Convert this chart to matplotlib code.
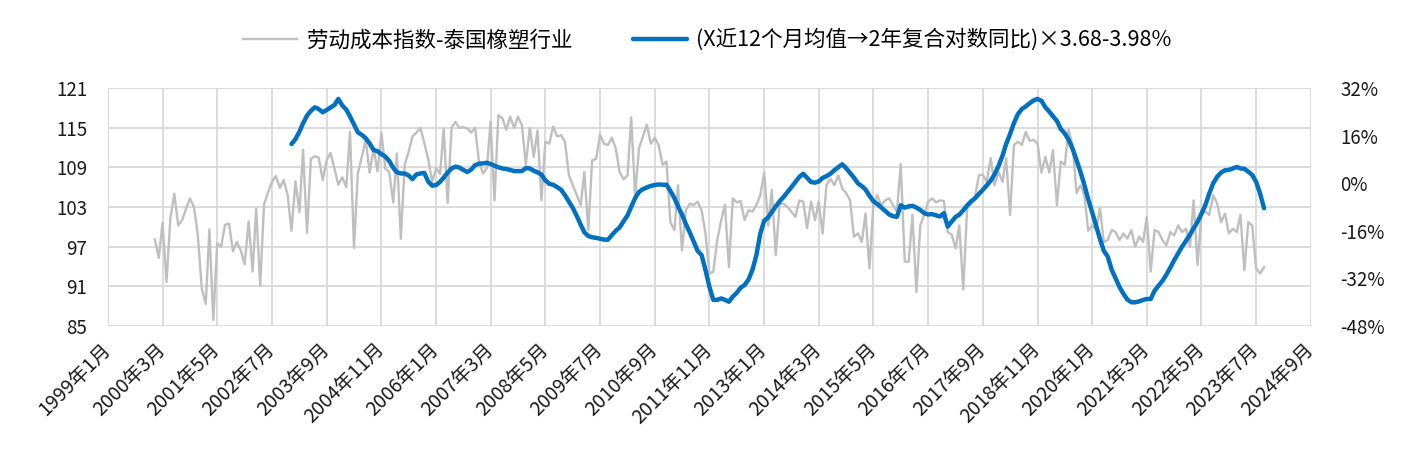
import matplotlib
matplotlib.use("Agg")
import matplotlib.pyplot as plt
import pandas as pd

plt.rcParams['font.family'] = ['Noto Sans CJK SC', 'DejaVu Sans']

# ---- data ----
gray_label = "劳动成本指数-泰国橡塑行业"
blue_label = "(X近12个月均值→2年复合对数同比)×3.68-3.98%"

gray_start = "2000-01-01"
gray_values = [
    98.1, 95.3, 100.6, 91.6, 101.3, 105.0, 100.2, 101.0, 102.8, 104.3, 103.0, 98.7,   # 2000
    90.6, 88.3, 99.6, 85.9, 97.5, 97.0, 100.3, 100.5, 96.3, 97.7, 96.4, 94.3,         # 2001
    100.8, 93.2, 102.7, 91.1, 103.4, 105.2, 106.8, 107.7, 105.9, 107.1, 104.8, 99.4,  # 2002
    106.9, 102.2, 111.7, 99.1, 110.3, 110.7, 110.5, 107.1, 110.1, 111.2, 108.8, 106.4,  # 2003
    107.5, 106.0, 114.4, 96.8, 108.1, 110.6, 113.2, 108.2, 111.9, 108.4, 114.2, 108.8,  # 2004
    108.3, 103.7, 111.1, 98.2, 109.4, 111.4, 113.7, 114.3, 115.0, 112.7, 110.2, 106.8,  # 2005
    108.9, 108.0, 114.9, 103.6, 115.0, 115.9, 115.0, 115.1, 114.9, 114.3, 115.0, 109.9,  # 2006
    108.1, 108.9, 115.9, 104.0, 116.9, 116.5, 114.7, 116.7, 115.0, 116.7, 115.4, 109.4,  # 2007
    115.0, 110.6, 114.6, 104.0, 112.9, 112.6, 115.2, 113.7, 113.9, 112.9, 107.8, 106.3,  # 2008
    104.8, 103.3, 108.3, 99.5, 110.1, 110.3, 114.0, 112.6, 112.4, 113.5, 111.9, 108.3,  # 2009
    107.2, 107.8, 116.6, 104.8, 111.9, 113.7, 115.5, 112.6, 113.5, 112.4, 109.4, 109.9,  # 2010
    100.7, 99.5, 106.3, 96.4, 102.5, 103.5, 103.3, 103.8, 102.5, 99.0, 92.9, 93.2,     # 2011
    98.0, 101.0, 103.3, 93.9, 104.3, 103.7, 103.9, 101.0, 102.5, 102.3, 103.3, 104.8,  # 2012
    108.2, 100.2, 105.6, 95.7, 103.5, 103.5, 103.0, 102.3, 101.5, 104.0, 103.8, 99.8,  # 2013
    103.8, 101.0, 103.8, 99.0, 106.3, 107.3, 106.3, 107.8, 105.8, 105.1, 104.0, 98.5,  # 2014
    99.0, 97.7, 102.0, 93.7, 103.3, 104.8, 103.3, 104.0, 104.3, 103.3, 102.3, 109.5,   # 2015
    94.7, 94.7, 101.8, 90.1, 100.2, 101.8, 103.8, 104.3, 103.7, 104.0, 103.9, 99.2,    # 2016
    98.8, 96.7, 100.2, 90.5, 102.8, 103.5, 104.5, 107.8, 107.9, 106.8, 110.4, 106.3,   # 2017
    108.3, 106.8, 110.4, 101.8, 112.4, 112.9, 112.4, 114.4, 113.0, 113.2, 112.6, 108.2,  # 2018
    110.6, 108.2, 111.6, 103.3, 109.9, 109.4, 114.7, 112.4, 105.1, 106.3, 104.8, 99.4,  # 2019
    100.2, 99.5, 102.8, 97.7, 98.0, 99.5, 99.2, 98.0, 99.0, 98.2, 99.5, 97.0,          # 2020
    98.5, 97.7, 101.5, 93.2, 99.5, 99.2, 98.0, 97.2, 99.2, 98.7, 100.2, 99.2,          # 2021
    99.7, 97.0, 104.0, 94.2, 102.0, 102.3, 101.8, 104.8, 103.5, 100.7, 102.0, 99.0,    # 2022
    99.7, 99.2, 101.8, 93.4, 100.7, 100.2, 93.7, 92.9, 93.9,                           # 2023
]

blue_start = "2002-12-01"
blue_values = [
    13.2,                                                                   # 2002-12
    14.9, 17.4, 20.2, 22.8, 24.4, 25.6, 25.0, 23.9, 24.7, 25.5, 26.4, 28.4,  # 2003
    26.2, 24.8, 22.5, 19.8, 17.2, 16.3, 15.2, 13.4, 11.2, 10.8, 9.8, 9.0,    # 2004
    7.5, 5.2, 3.7, 3.3, 3.3, 2.6, 1.4, 3.0, 3.3, 3.5, 0.5, -0.8,             # 2005
    -0.6, 0.5, 1.9, 3.6, 5.0, 5.6, 5.3, 4.5, 3.8, 4.6, 6.1, 6.6,             # 2006
    6.7, 6.9, 6.5, 5.9, 5.4, 5.0, 4.8, 4.5, 4.1, 4.1, 4.1, 5.1,              # 2007
    5.0, 4.2, 3.7, 2.9, 1.0, -0.2, -0.5, -1.3, -2.2, -4.0, -6.2, -8.3,       # 2008
    -11.0, -14.0, -16.5, -17.8, -18.2, -18.4, -18.7, -19.0, -19.0, -17.5, -16.0, -14.9,  # 2009
    -12.8, -10.8, -8.0, -5.0, -2.9, -2.0, -1.4, -0.9, -0.6, -0.4, -0.5, -0.5,  # 2010
    -2.6, -5.0, -7.8, -10.5, -13.7, -16.6, -19.6, -22.8, -24.2, -29.2, -34.9, -39.3,  # 2011
    -39.3, -38.8, -39.3, -39.9, -38.2, -36.9, -35.2, -34.3, -32.4, -29.2, -24.2, -17.0,  # 2012
    -12.6, -11.5, -9.7, -7.8, -6.1, -4.6, -3.0, -1.3, 0.4, 2.1, 3.2, 1.8,    # 2013
    0.4, 0.2, 0.6, 1.8, 2.4, 3.2, 4.4, 5.4, 6.4, 5.1, 3.5, 1.9,              # 2014
    0.0, -1.0, -2.1, -4.2, -6.0, -7.0, -8.1, -9.3, -10.5, -11.1, -11.3, -7.4,  # 2015
    -8.2, -7.8, -7.6, -8.2, -9.0, -10.1, -10.5, -10.4, -10.8, -11.2, -10.1, -14.6,  # 2016
    -12.9, -11.3, -10.6, -9.1, -7.5, -6.1, -5.1, -3.6, -2.2, -0.7, 0.9, 3.0,  # 2017
    5.8, 9.3, 13.2, 16.6, 20.3, 23.3, 25.0, 25.9, 27.0, 27.9, 28.4, 27.8,    # 2018
    25.6, 24.1, 22.6, 21.0, 18.3, 16.8, 14.7, 11.6, 7.8, 3.9, -0.6, -5.4,    # 2019
    -9.8, -14.4, -18.7, -22.8, -24.7, -29.2, -32.0, -35.0, -37.3, -39.2, -40.1, -40.1,  # 2020
    -39.8, -39.3, -39.0, -39.0, -36.2, -34.5, -32.9, -30.8, -28.4, -25.9, -23.6, -21.4,  # 2021
    -19.4, -17.3, -15.2, -13.0, -10.3, -7.3, -3.5, 0.0, 2.2, 3.6, 4.4, 4.5,  # 2022
    5.0, 5.5, 5.0, 4.9, 3.9, 2.8, 0.5, -3.4, -8.4,                           # 2023
]

left_ticks = [85, 91, 97, 103, 109, 115, 121]
right_ticks = [-48, -32, -16, 0, 16, 32]
x_start, x_end = "1999-01-01", "2024-09-01"
x_tick_step_months = 14

# ---- build ----
gray_dates = pd.date_range(gray_start, periods=len(gray_values), freq="MS")
blue_dates = pd.date_range(blue_start, periods=len(blue_values), freq="MS")
xticks = pd.date_range(x_start, x_end, freq=f"{x_tick_step_months}MS")
xtick_labels = [f"{d.year}年{d.month}月" for d in xticks]

W, H = 1415, 473
fig = plt.figure(figsize=(W / 100, H / 100), dpi=100)
L, R, T, B = 108, 1311, 88.3, 325.7
ax = fig.add_axes([L / W, 1 - B / H, (R - L) / W, (B - T) / H])
ax2 = ax.twinx()

gray_c = "#BFBFBF"
blue_c = "#0070C0"
grid_c = "#D9D9D9"

ax.plot(gray_dates, gray_values, color=gray_c, lw=1.7, label=gray_label, zorder=3)
ax2.plot(blue_dates, blue_values, color=blue_c, lw=3.2, label=blue_label,
         solid_capstyle="round", solid_joinstyle="round")

ax.set_xlim(pd.Timestamp(x_start), pd.Timestamp(x_end))
ax.set_ylim(left_ticks[0], left_ticks[-1])
ax2.set_ylim(right_ticks[0], right_ticks[-1])
ax.set_yticks(left_ticks)
ax.set_yticklabels([str(v) for v in left_ticks])
ax2.set_yticks(right_ticks)
ax2.set_yticklabels([f"{v}%" for v in right_ticks])
ax.set_xticks(xticks)
ax.set_xticklabels(xtick_labels, rotation=45, ha="right", va="center",
                   rotation_mode="anchor", fontsize=14)

ax.grid(True, color=grid_c, lw=1.3)
ax.set_axisbelow(True)
for a in (ax, ax2):
    for s in a.spines.values():
        s.set_visible(False)
ax.tick_params(axis="y", length=0, labelsize=13.5, colors="#1a1a1a", pad=15)
ax.tick_params(axis="x", length=0, colors="#1a1a1a", pad=15)
ax2.tick_params(axis="y", length=0, labelsize=13.5, colors="#1a1a1a", pad=21)

h1, l1 = ax.get_legend_handles_labels()
h2, l2 = ax2.get_legend_handles_labels()
fig.legend(h1 + h2, l1 + l2, loc="center", bbox_to_anchor=(0.5, 1 - 40 / H),
           ncol=2, frameon=False, fontsize=15.5, handlelength=2.5,
           columnspacing=2.8, handletextpad=0.45)

fig.savefig("out.png", dpi=100)
